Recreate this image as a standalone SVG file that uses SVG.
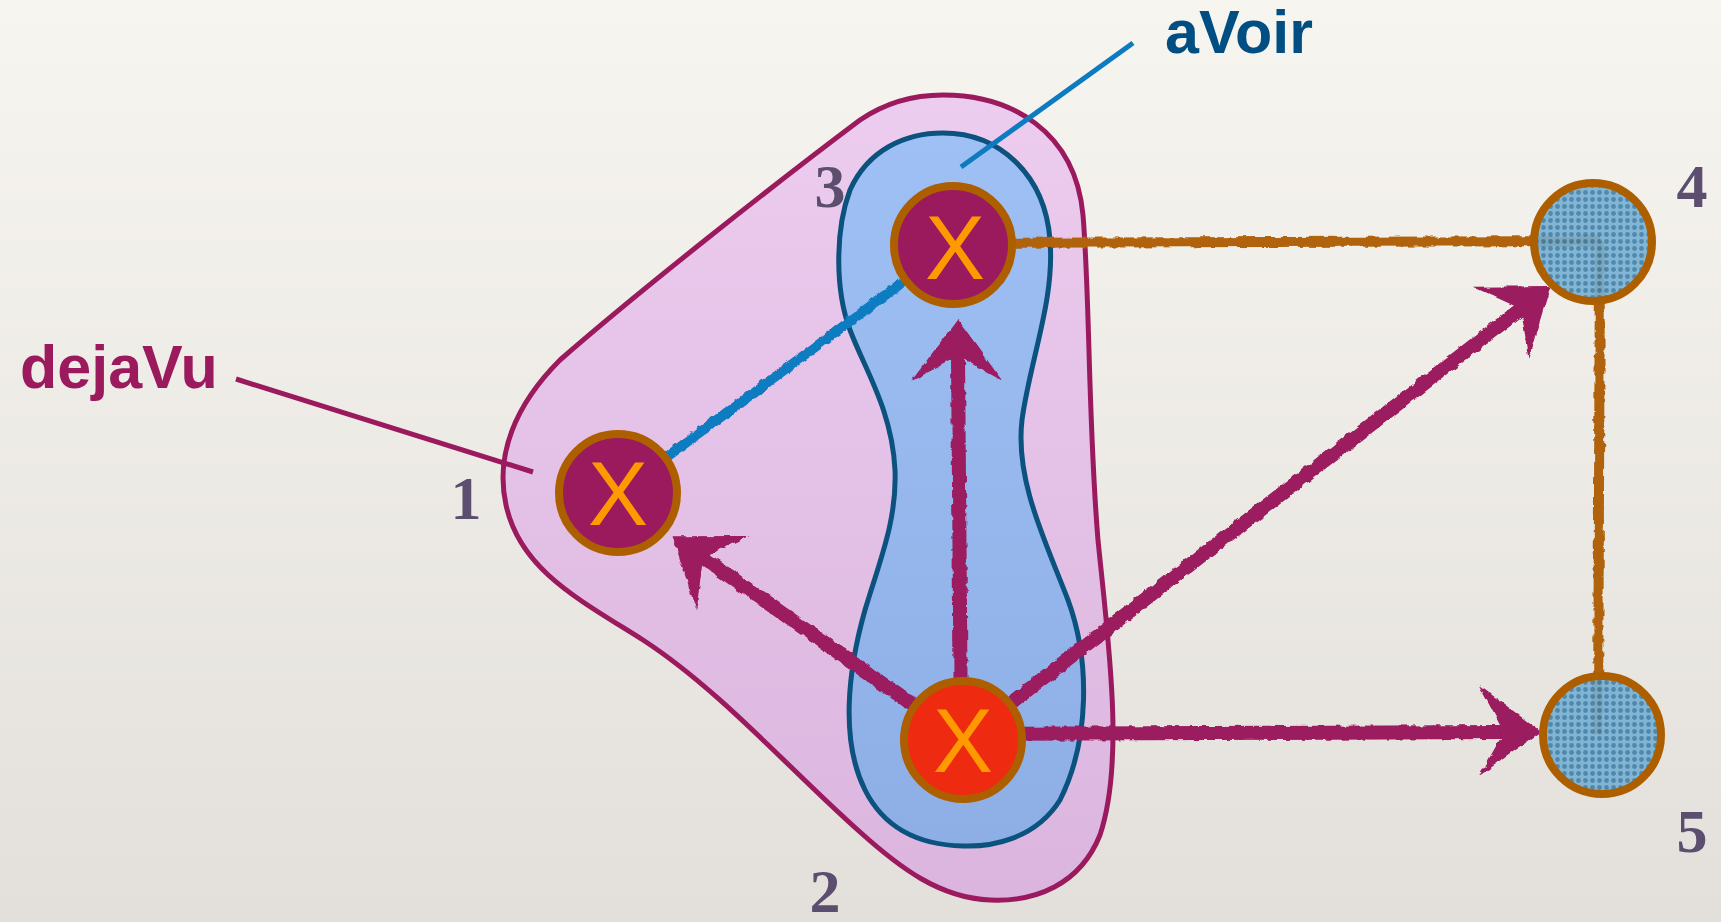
<svg xmlns="http://www.w3.org/2000/svg" width="1721" height="922" viewBox="0 0 1721 922">
<defs>
<linearGradient id="bg" x1="0" y1="0" x2="0" y2="1">
<stop offset="0" stop-color="#f7f5ef"/>
<stop offset="1" stop-color="#e3e0db"/>
</linearGradient>
<linearGradient id="pinkFill" x1="0" y1="0" x2="0" y2="1">
<stop offset="0" stop-color="#ecccef"/>
<stop offset="1" stop-color="#dbb5de"/>
</linearGradient>
<linearGradient id="blueFill" x1="0" y1="0" x2="0" y2="1">
<stop offset="0" stop-color="#9ec0f4"/>
<stop offset="1" stop-color="#8dafe6"/>
</linearGradient>
<pattern id="dots" width="7" height="7" patternUnits="userSpaceOnUse">
<rect width="7" height="7" fill="#76b0d2"/>
<circle cx="3.5" cy="3.5" r="2.4" fill="#3f7ea8"/>
</pattern>
<filter id="rough" x="-10%" y="-10%" width="120%" height="120%">
<feTurbulence type="fractalNoise" baseFrequency="0.12" numOctaves="2" seed="3" result="noise"/>
<feDisplacementMap in="SourceGraphic" in2="noise" scale="5" xChannelSelector="R" yChannelSelector="G"/>
</filter>
<marker id="head" markerUnits="userSpaceOnUse" orient="auto" refX="0" refY="0" markerWidth="120" markerHeight="120" viewBox="-40 -60 100 120" overflow="visible">
<path d="M 36,0 L -26,-47 L -5,-7 L -5,7 L -26,44 Z" fill="#9b1a5e"/>
</marker>
<style>
.num{font-family:"Liberation Serif","Times New Roman",serif;font-weight:bold;font-size:62px;fill:#5c4e6e;text-anchor:middle}
.cross{font-family:"Liberation Sans",Arial,sans-serif;font-size:90px;fill:#ff9900;text-anchor:middle}
.setlabel{font-family:"Liberation Sans",Arial,sans-serif;font-weight:bold;font-size:61px}
.ring{stroke:#ad5f00;stroke-width:8}
.mag{stroke:#9b1a5e;stroke-width:14;fill:none;marker-end:url(#head)}
.org{stroke:#b1620a;stroke-width:10;fill:none}
</style>
</defs>
<rect width="1721" height="922" fill="url(#bg)"/>

<g id="set-dejaVu">
<path d="M 943,95 C 1010,95 1075,130 1083,215 C 1090,300 1088,420 1098,540 C 1108,640 1125,760 1100,835 C 1080,885 1035,902 990,900 C 940,898 900,868 860,832 C 790,770 720,690 643,640 C 580,600 520,570 506,505 C 495,455 515,405 560,360 C 640,290 780,180 860,120 C 885,103 912,95 943,95 Z" fill="url(#pinkFill)" stroke="#9b1a5e" stroke-width="5"/>
</g>
<g id="set-aVoir">
<path d="M 943,133 C 1000,133 1045,175 1050,240 C 1055,300 1030,360 1022,420 C 1015,480 1045,540 1068,600 C 1090,660 1090,740 1060,800 C 1035,840 990,847 963,846 C 920,845 885,830 865,790 C 840,740 848,670 865,610 C 880,560 897,520 895,470 C 892,410 865,370 850,330 C 835,290 835,230 850,190 C 868,150 905,133 943,133 Z" fill="url(#blueFill)" stroke="#0b527f" stroke-width="5"/>
</g>

<g id="label-dejaVu">
<text class="setlabel" x="20" y="388" fill="#9b1a5e">dejaVu</text>
<line x1="236" y1="379" x2="533" y2="472" stroke="#9b1a5e" stroke-width="5"/>
</g>
<g id="label-aVoir">
<text class="setlabel" x="1165" y="53" fill="#004e82">aVoir</text>
<line x1="1133" y1="43" x2="961" y2="167" stroke="#0c7bc0" stroke-width="5"/>
</g>

<g id="connectors" filter="url(#rough)">
<line class="org" x1="953" y1="243" x2="1600" y2="241"/>
<line class="org" x1="1600" y1="241" x2="1598" y2="735"/>
<line x1="618" y1="493" x2="953" y2="245" stroke="#0c7bc0" stroke-width="10"/>
<line class="mag" x1="963" y1="740" x2="702" y2="557"/>
<line class="mag" x1="961" y1="740" x2="958" y2="355"/>
<line class="mag" x1="963" y1="740" x2="1522" y2="308"/>
<line class="mag" x1="963" y1="734" x2="1505" y2="732"/>
</g>

<g id="node1">
<circle class="ring" cx="618" cy="493" r="59" fill="#9b1a5e"/>
<text class="cross" x="618" y="525">X</text>
<text class="num" x="466" y="519">1</text>
</g>
<g id="node2">
<circle class="ring" cx="963" cy="740" r="59" fill="#ee2a10"/>
<text class="cross" x="963" y="772">X</text>
<text class="num" x="825" y="912">2</text>
</g>
<g id="node3">
<circle class="ring" cx="953" cy="245" r="59" fill="#9b1a5e"/>
<text class="cross" x="955" y="279">X</text>
<text class="num" x="830" y="207">3</text>
</g>
<g id="node4">
<circle class="ring" cx="1593" cy="242" r="59" fill="url(#dots)" fill-opacity="0.9"/>
<text class="num" x="1692" y="207">4</text>
</g>
<g id="node5">
<circle class="ring" cx="1602" cy="735" r="59" fill="url(#dots)" fill-opacity="0.9"/>
<text class="num" x="1692" y="852">5</text>
</g>
</svg>
